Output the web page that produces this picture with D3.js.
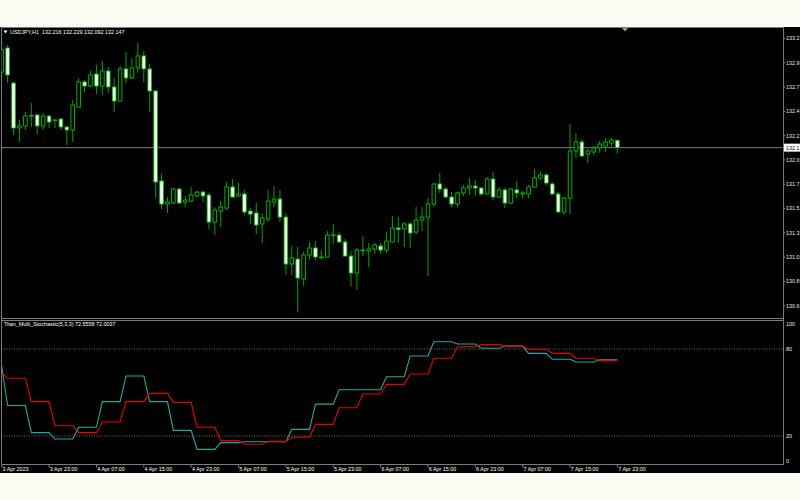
<!DOCTYPE html>
<html>
<head>
<meta charset="utf-8">
<script src="https://cdn.jsdelivr.net/npm/d3@7"></script>
<style>
	body { margin: 0; background: #fbfbf3; }
	svg { display: block; }
</style>
</head>
<body>
<div id="chart"></div>
<script>
// USDJPY H1 candles, 3 Apr 15:00 .. 7 Apr 23:00
var open = [132.879,133.111,132.772,132.337,132.357,132.453,132.463,132.357,132.453,132.410,
	132.424,132.347,132.318,132.540,132.782,132.743,132.859,132.743,132.888,132.734,
	132.598,132.908,132.821,132.918,133.034,132.908,132.695,131.825,131.602,131.612,
	131.747,131.621,131.631,131.680,131.718,131.689,131.428,131.534,131.563,131.767,
	131.680,131.699,131.534,131.515,131.409,131.457,131.621,131.650,131.476,131.022,
	131.070,130.877,131.109,131.177,131.085,131.090,131.298,131.302,131.235,131.099,
	130.935,131.152,131.148,131.167,131.196,131.157,131.235,131.370,131.360,131.409,
	131.331,131.447,131.476,131.602,131.796,131.747,131.670,131.602,131.709,131.757,
	131.776,131.757,131.699,131.844,131.670,131.738,131.612,131.738,131.699,131.699,
	131.767,131.854,131.883,131.796,131.699,131.525,131.660,132.115,132.202,132.086,
	132.105,132.144,132.163,132.192,132.216];
var high = [133.169,133.140,132.782,132.415,132.492,132.579,132.473,132.482,132.463,132.424,
	132.434,132.350,132.608,132.821,132.801,132.888,132.947,132.985,132.927,132.821,
	132.937,133.072,133.014,133.159,133.082,132.956,132.700,131.892,131.670,131.757,
	131.757,131.680,131.767,131.728,131.728,131.709,131.573,131.631,131.815,131.844,
	131.805,131.738,131.563,131.612,131.515,131.738,131.776,131.738,131.515,131.196,
	131.186,131.138,131.235,131.244,131.157,131.341,131.409,131.331,131.264,131.148,
	131.177,131.293,131.225,131.225,131.225,131.331,131.486,131.476,131.428,131.428,
	131.573,131.573,131.660,131.805,131.902,131.767,131.718,131.718,131.786,131.854,
	131.834,131.767,131.863,131.912,131.767,131.757,131.757,131.825,131.728,131.786,
	131.941,131.912,131.902,131.815,131.718,131.670,132.376,132.289,132.231,132.134,
	132.163,132.211,132.240,132.240,132.229];
var low = [132.850,132.772,132.269,132.202,132.318,132.347,132.279,132.318,132.337,132.337,
	132.318,132.173,132.202,132.535,132.685,132.734,132.666,132.656,132.676,132.492,
	132.589,132.772,132.811,132.869,132.782,132.492,131.660,131.554,131.515,131.605,
	131.602,131.573,131.621,131.670,131.621,131.360,131.302,131.380,131.544,131.665,
	131.670,131.496,131.409,131.312,131.225,131.428,131.573,131.428,130.916,130.916,
	130.558,130.809,131.061,131.061,131.061,131.085,131.215,131.230,131.095,130.809,
	130.770,131.099,130.993,131.119,131.119,131.128,131.230,131.225,131.186,131.177,
	131.312,131.341,130.906,131.573,131.709,131.660,131.573,131.573,131.680,131.689,
	131.680,131.680,131.695,131.641,131.660,131.563,131.602,131.660,131.650,131.660,
	131.762,131.834,131.786,131.689,131.515,131.496,131.505,132.047,132.057,131.999,
	132.076,132.095,132.105,132.144,132.092];
var close = [133.092,132.850,132.337,132.357,132.453,132.458,132.357,132.453,132.395,132.415,
	132.347,132.318,132.560,132.782,132.743,132.850,132.743,132.888,132.734,132.598,
	132.908,132.821,132.918,133.034,132.908,132.695,131.815,131.602,131.621,131.747,
	131.612,131.641,131.689,131.718,131.680,131.428,131.544,131.573,131.767,131.670,
	131.699,131.525,131.505,131.399,131.467,131.631,131.650,131.476,131.022,131.080,
	130.887,131.109,131.177,131.090,131.090,131.302,131.302,131.235,131.099,130.935,
	131.157,131.157,131.167,131.206,131.157,131.244,131.370,131.356,131.409,131.322,
	131.447,131.476,131.602,131.796,131.747,131.670,131.602,131.709,131.757,131.776,
	131.757,131.699,131.844,131.670,131.738,131.612,131.747,131.709,131.709,131.767,
	131.854,131.883,131.805,131.699,131.525,131.660,132.115,132.202,132.066,132.115,
	132.144,132.182,132.202,132.221,132.147];

// Titan_Multi_Stochastic(5,3,3), one value per H1 bar
var stochMain = [68.3,
	41.0,41.0,41.0,41.0, 22.3,22.3,22.3,22.3, 17.9,17.9,17.9,17.9, 26.0,26.0,26.0,26.0,
	43.7,43.7,43.7,43.7, 61.4,61.4,61.4,61.4, 43.7,43.7,43.7,43.7, 23.9,23.9,23.9,23.9,
	10.8,10.8,10.8,10.8, 15.4,15.4,15.4,15.4, 16.0,16.0,16.0,16.0, 16.0,16.0,16.0,16.0,
	24.6,24.6,24.6,24.6, 42.0,42.0,42.0,42.0, 51.9,51.9,51.9,51.9, 51.9,51.9,51.9,51.9,
	60.9,60.9,60.9,60.9, 75.2,75.2,75.2,75.2, 85.0,85.0,85.0,85.0, 83.4,83.4,83.4,83.4,
	80.5,80.5,80.5,80.5, 82.0,82.0,82.0,82.0, 77.0,77.0,77.0,77.0, 72.9,72.9,72.9,72.9,
	71.0,71.0,71.0,71.0, 72.5558,72.5558,72.5558,72.5558];
var stochSignal = [63.7,
	59.8,59.8,59.8,59.8, 43.7,43.7,43.7,43.7, 27.1,27.1,27.1,27.1, 22.3,22.3,22.3,22.3,
	29.7,29.7,29.7,29.7, 43.7,43.7,43.7,43.7, 49.4,49.4,49.4,49.4, 43.2,43.2,43.2,43.2,
	26.0,26.0,26.0,26.0, 16.8,16.8,16.8,16.8, 14.3,14.3,14.3,14.3, 16.3,16.3,16.3,16.3,
	19.1,19.1,19.1,19.1, 28.0,28.0,28.0,28.0, 39.5,39.5,39.5,39.5, 49.0,49.0,49.0,49.0,
	55.6,55.6,55.6,55.6, 62.8,62.8,62.8,62.8, 73.6,73.6,73.6,73.6, 81.6,81.6,81.6,81.6,
	83.0,83.0,83.0,83.0, 82.0,82.0,82.0,82.0, 79.8,79.8,79.8,79.8, 77.0,77.0,77.0,77.0,
	73.6,73.6,73.6,73.6, 72.0037,72.0037,72.0037,72.0037];

var timeLabels = ["3 Apr 2023","3 Apr 23:00","4 Apr 07:00","4 Apr 15:00","4 Apr 23:00",
	"5 Apr 07:00","5 Apr 15:00","5 Apr 23:00","6 Apr 07:00","6 Apr 15:00",
	"6 Apr 23:00","7 Apr 07:00","7 Apr 15:00","7 Apr 23:00"];
var timeLabelBars = [0,8,16,24,32,40,48,56,64,72,80,88,96,104];

var priceTicks = [130.618,130.853,131.088,131.323,131.558,131.793,132.028,132.263,132.498,132.733,132.968,133.203];
var stochLevels = [0,20,80,100];

var symbolName = "USDJPY,H1";
var indicatorName = "Titan_Multi_Stochastic(5,3,3)";

function init(){
	candleChart();
}

// the narrow price scale only has room for one decimal
function shortPrice(p){
	return (Math.floor(p * 10) / 10).toFixed(1);
}

function candleChart(){
	var width = 800;
	var height = 500;
	var frame = "#7c7c7c";
	var font = "'Liberation Sans', Arial, sans-serif";
	var fs = "5.4px";

	var panelLeft = 1.5, panelRight = 783.5;
	var mainTop = 27.5, mainBottom = 318.5;
	var subTop = 320.5, subBottom = 464.5;

	var svg = d3.select("#chart").append("svg")
				.attr("width", width)
				.attr("height", height);

	svg.append("rect")
		.attr("width", width)
		.attr("height", height)
		.attr("fill", "#fbfbf3");

	svg.append("rect")
		.attr("x", 0)
		.attr("y", 27)
		.attr("width", width)
		.attr("height", 446)
		.attr("fill", "#000");

	var x = d3.scaleLinear().domain([0, 104]).range([1.7, 617.4]);
	var y = d3.scaleLinear().domain([130.5, 133.304]).range([318, 28]);
	var ys = d3.scaleLinear().domain([0, 100]).range([465, 320]);

	svg.append("clipPath").attr("id", "mainClip")
		.append("rect")
		.attr("x", panelLeft).attr("y", mainTop)
		.attr("width", panelRight - panelLeft).attr("height", mainBottom - mainTop);
	svg.append("clipPath").attr("id", "subClip")
		.append("rect")
		.attr("x", panelLeft).attr("y", subTop)
		.attr("width", panelRight - panelLeft).attr("height", subBottom - subTop);

	// panel frames
	var frames = [[panelLeft, mainTop, panelRight, mainTop], [panelLeft, mainBottom, panelRight, mainBottom],
		[panelLeft, subTop, panelRight, subTop], [panelLeft, subBottom, panelRight, subBottom],
		[panelLeft, mainTop, panelLeft, subBottom], [panelRight, mainTop, panelRight, subBottom]];
	svg.selectAll("line.frame").data(frames).enter()
		.append("line")
		.attr("class", "frame")
		.attr("x1", d => d[0]).attr("y1", d => d[1])
		.attr("x2", d => d[2]).attr("y2", d => d[3])
		.attr("stroke", frame)
		.attr("stroke-width", 1);

	// current price line
	var last = close[close.length - 1];
	svg.append("line")
		.attr("x1", panelLeft).attr("x2", panelRight)
		.attr("y1", y(last)).attr("y2", y(last))
		.attr("stroke", frame)
		.attr("stroke-width", 1);

	// candles
	var idx = d3.range(open.length);
	var candles = svg.append("g").attr("clip-path", "url(#mainClip)")
		.selectAll("g.candle").data(idx).enter()
		.append("g").attr("class", "candle");

	candles.append("line")
		.attr("x1", i => x(i)).attr("x2", i => x(i))
		.attr("y1", i => y(high[i])).attr("y2", i => y(low[i]))
		.attr("stroke", "#00a000")
		.attr("stroke-width", 1);

	candles.append("rect")
		.attr("x", i => x(i) - 1.8)
		.attr("width", 3.6)
		.attr("y", i => y(Math.max(open[i], close[i])))
		.attr("height", i => Math.max(0.6, Math.abs(y(open[i]) - y(close[i]))))
		.attr("fill", i => close[i] >= open[i] ? "#000" : "#fff")
		.attr("stroke", "#00c000")
		.attr("stroke-width", 0.9);

	// price axis
	var pt = svg.selectAll("g.ptick").data(priceTicks).enter().append("g");
	pt.append("line")
		.attr("x1", panelRight).attr("x2", panelRight + 2)
		.attr("y1", d => y(d)).attr("y2", d => y(d))
		.attr("stroke", frame);
	pt.append("text")
		.attr("x", 786)
		.attr("y", d => y(d))
		.attr("dy", "0.35em")
		.attr("fill", "#e8e8e8")
		.style("font-family", font)
		.style("font-size", fs)
		.text(d => shortPrice(d));

	svg.append("rect")
		.attr("x", panelRight + 0.5)
		.attr("y", y(last) - 4)
		.attr("width", 17)
		.attr("height", 8)
		.attr("fill", "#fff");
	svg.append("text")
		.attr("x", 786)
		.attr("y", y(last))
		.attr("dy", "0.35em")
		.attr("fill", "#000")
		.style("font-family", font)
		.style("font-size", fs)
		.text(shortPrice(last));

	// header
	svg.append("path")
		.attr("d", "M3.5,30.5 L7.5,30.5 L5.5,33.5 Z")
		.attr("fill", "#fff");
	svg.append("text")
		.attr("x", 10)
		.attr("y", 32)
		.attr("dy", "0.35em")
		.attr("fill", "#fff")
		.style("font-family", font)
		.style("font-size", fs)
		.style("white-space", "pre")
		.text(symbolName + "  " + [open[104], high[104], low[104], close[104]].map(d => d.toFixed(3)).join(" "));

	// chart shift marker
	svg.append("path")
		.attr("d", "M622,28 L628,28 L625,31.5 Z")
		.attr("fill", "#9a9a9a");

	// stochastic levels
	svg.selectAll("line.level").data([20, 80]).enter()
		.append("line")
		.attr("x1", panelLeft).attr("x2", panelRight)
		.attr("y1", d => ys(d)).attr("y2", d => ys(d))
		.attr("stroke", "#8a8a8a")
		.attr("stroke-width", 0.8)
		.attr("stroke-dasharray", "1,1.5");

	svg.selectAll("text.level").data(stochLevels).enter()
		.append("text")
		.attr("x", 786)
		.attr("y", d => Math.min(461, Math.max(324, ys(d))))
		.attr("dy", "0.35em")
		.attr("fill", "#e8e8e8")
		.style("font-family", font)
		.style("font-size", fs)
		.text(d => d);

	var line = d3.line().x((d, i) => x(i)).y(d => ys(d));
	var sub = svg.append("g").attr("clip-path", "url(#subClip)");
	sub.append("path")
		.datum(stochMain)
		.attr("d", line)
		.attr("fill", "none")
		.attr("stroke", "#20aaa6")
		.attr("stroke-width", 1.1);
	sub.append("path")
		.datum(stochSignal)
		.attr("d", line)
		.attr("fill", "none")
		.attr("stroke", "#e80000")
		.attr("stroke-width", 1.1);

	svg.append("text")
		.attr("x", 4)
		.attr("y", 324.5)
		.attr("dy", "0.35em")
		.attr("fill", "#fff")
		.style("font-family", font)
		.style("font-size", fs)
		.text(indicatorName + " " + stochMain[104].toFixed(4) + " " + stochSignal[104].toFixed(4));

	// time axis
	var tl = svg.selectAll("g.tlabel").data(timeLabelBars).enter().append("g");
	tl.append("line")
		.attr("x1", d => x(d)).attr("x2", d => x(d))
		.attr("y1", subBottom).attr("y2", subBottom + 3)
		.attr("stroke", frame);
	tl.append("text")
		.attr("x", d => x(d) + 0.8)
		.attr("y", 469.5)
		.attr("dy", "0.35em")
		.attr("fill", "#fff")
		.style("font-family", font)
		.style("font-size", fs)
		.text((d, i) => timeLabels[i]);
}

window.onload = init;
</script>
</body>
</html>
